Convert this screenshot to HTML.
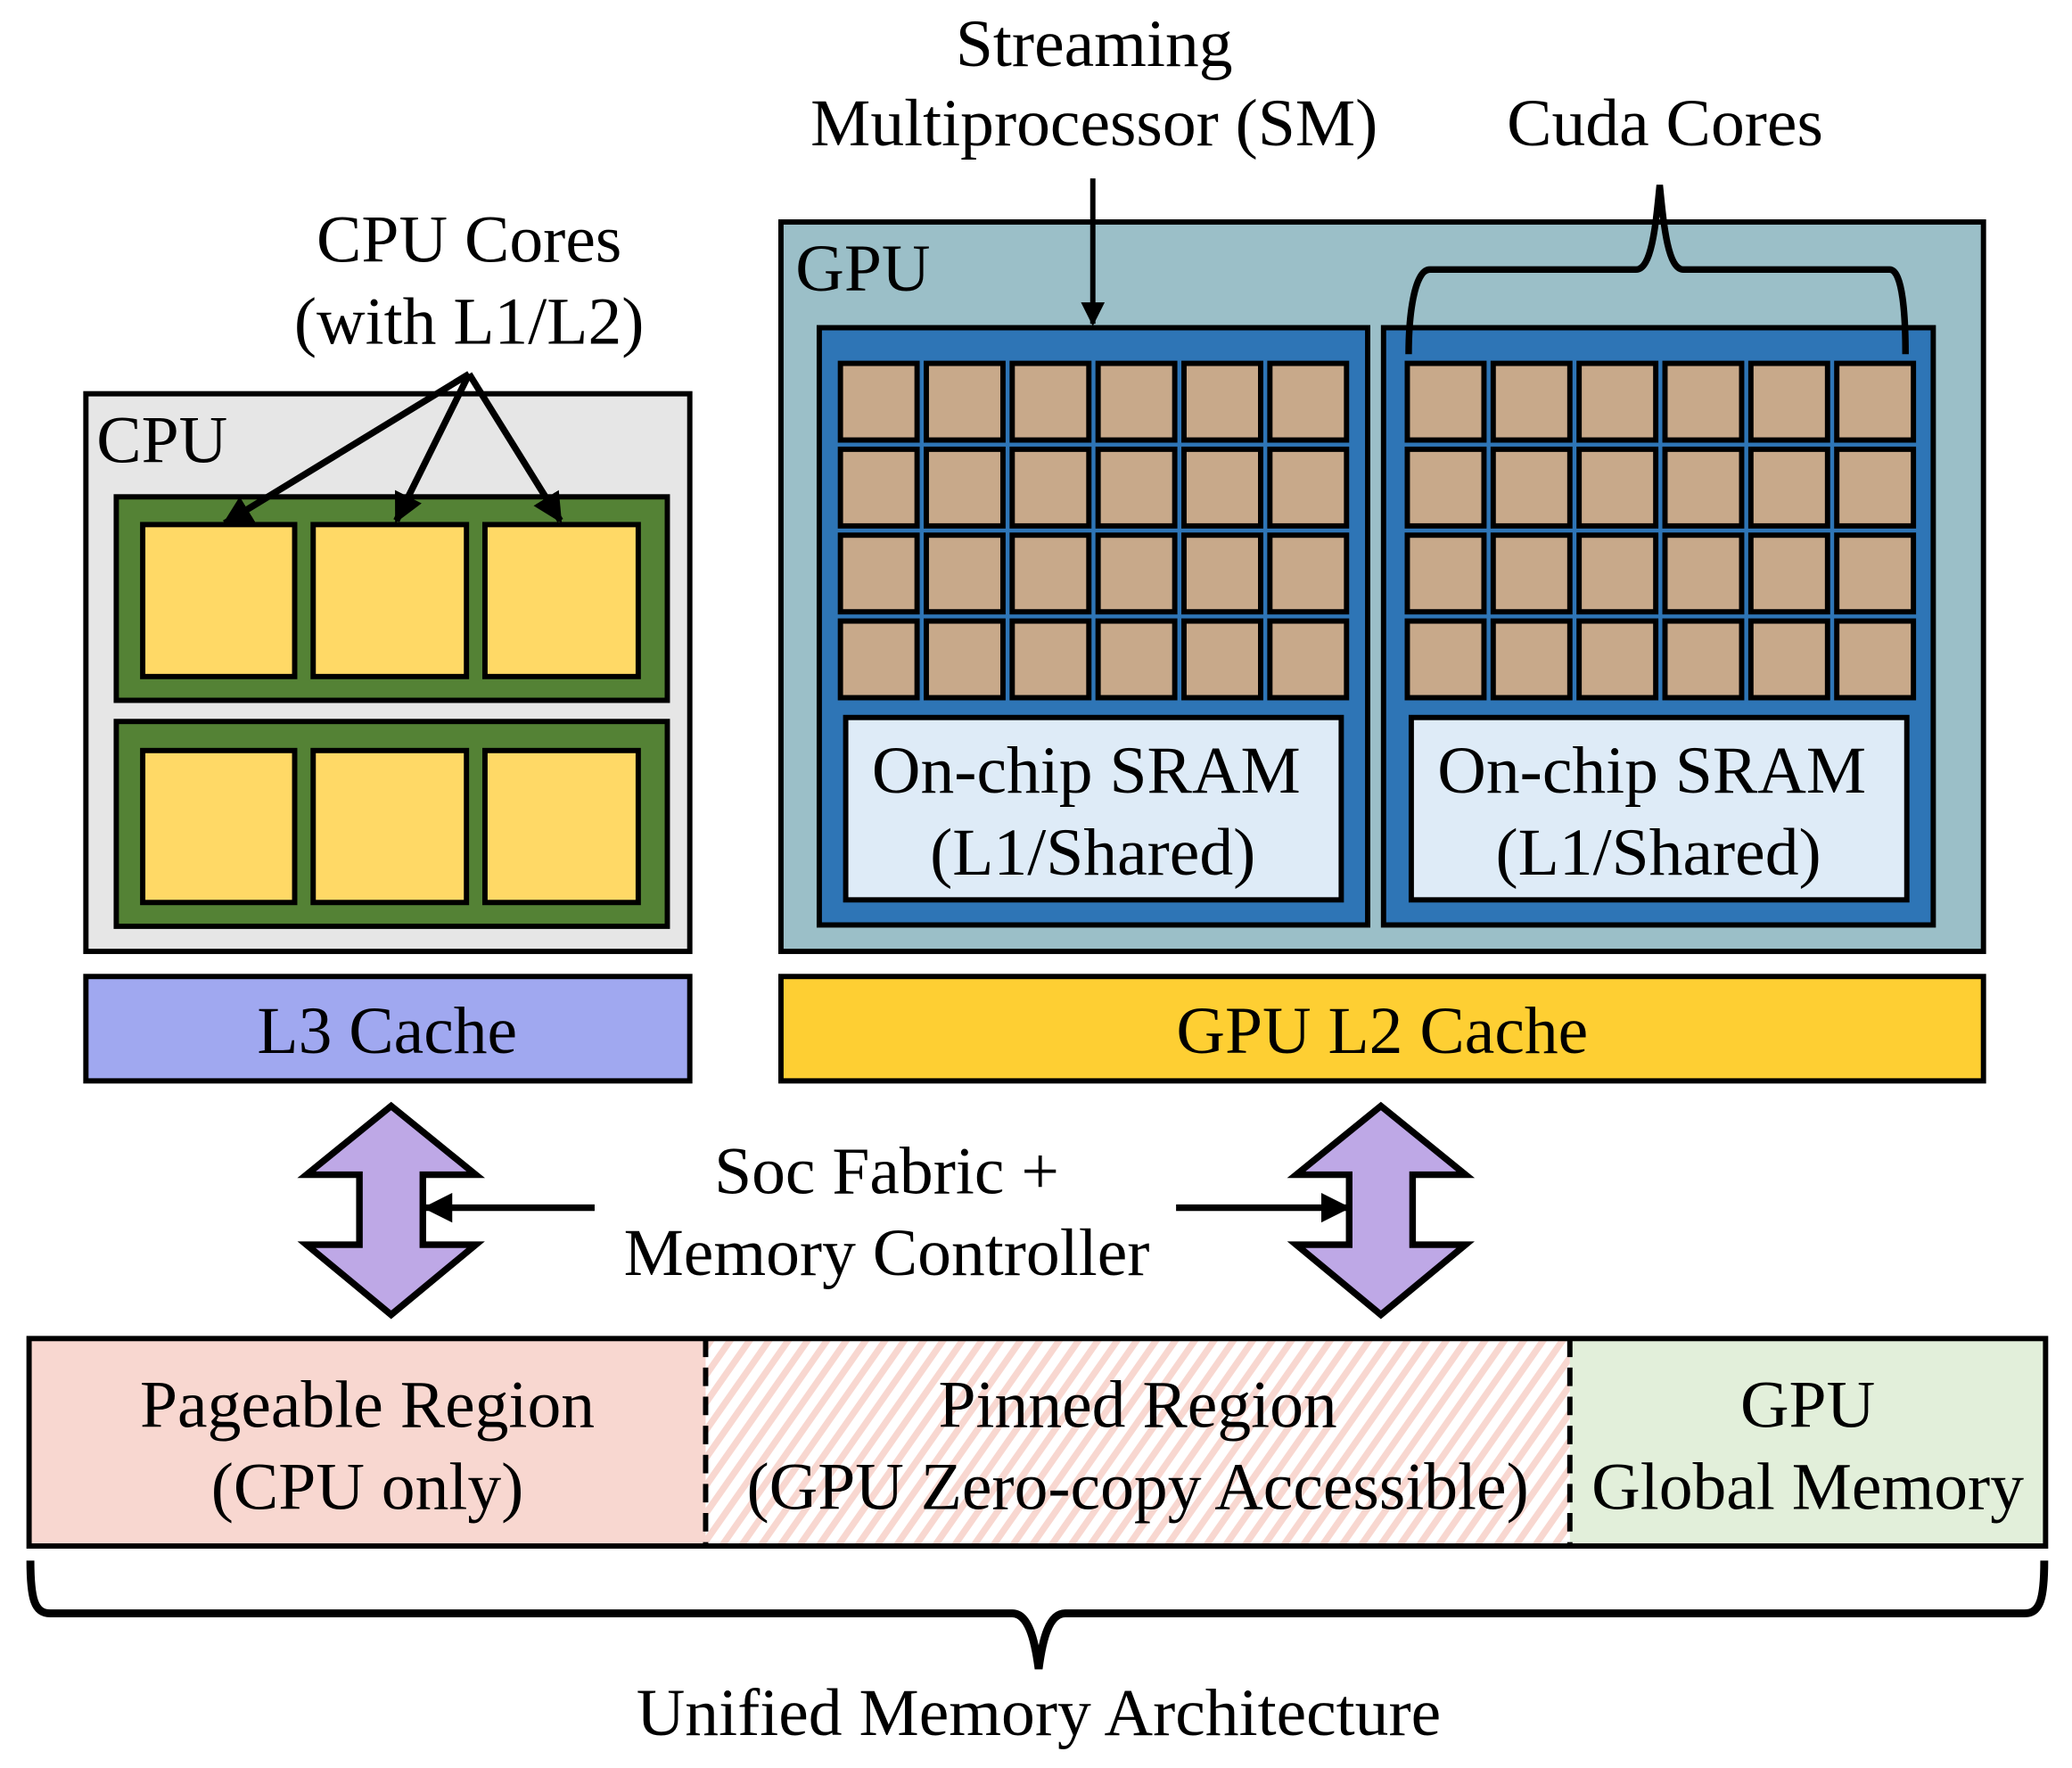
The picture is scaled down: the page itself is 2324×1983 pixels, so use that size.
<!DOCTYPE html>
<html><head><meta charset="utf-8"><style>
html,body{margin:0;padding:0;background:#fff;}
svg{display:block;}
text{font-family:"Liberation Serif","Times New Roman",serif;font-size:51px;fill:#000;}
</style></head><body>
<svg width="2324" height="1983" viewBox="0 0 1568 1338" preserveAspectRatio="none" xmlns="http://www.w3.org/2000/svg">
<defs>
<pattern id="hatch" patternUnits="userSpaceOnUse" width="12" height="12" patternTransform="rotate(35)">
<rect width="12" height="12" fill="#fff"/>
<rect width="5" height="12" fill="#f8d7d0"/>
</pattern>
<marker id="ah" viewBox="0 0 10 10" refX="9" refY="5" markerWidth="4.5" markerHeight="4.5" orient="auto" markerUnits="strokeWidth">
<path d="M0,0 L10,5 L0,10 z" fill="#000"/>
</marker>
</defs>

<!-- CPU -->
<rect x="65" y="298" width="457" height="422" fill="#e6e6e6" stroke="#000" stroke-width="4"/>
<text x="73" y="350">CPU</text>
<rect x="88" y="376" width="417" height="154" fill="#548235" stroke="#000" stroke-width="4"/>
<rect x="88" y="546" width="417" height="155" fill="#548235" stroke="#000" stroke-width="4"/>
<g fill="#ffd966" stroke="#000" stroke-width="4">
<rect x="108" y="397" width="115" height="115"/><rect x="237" y="397" width="116" height="115"/><rect x="367" y="397" width="116" height="115"/>
<rect x="108" y="568" width="115" height="115"/><rect x="237" y="568" width="116" height="115"/><rect x="367" y="568" width="116" height="115"/>
</g>
<g stroke="#000" stroke-width="5" fill="none" marker-end="url(#ah)">
<line x1="355" y1="283" x2="170" y2="396"/>
<line x1="355" y1="283" x2="300" y2="394"/>
<line x1="355" y1="283" x2="424" y2="394"/>
</g>
<text x="355" y="198" text-anchor="middle">CPU Cores</text>
<text x="355" y="260" text-anchor="middle">(with L1/L2)</text>

<rect x="65" y="739" width="457" height="79" fill="#a0a8f0" stroke="#000" stroke-width="4"/>
<text x="293" y="797" text-anchor="middle">L3 Cache</text>

<!-- GPU -->
<rect x="591" y="168" width="910" height="552" fill="#9bbfc8" stroke="#000" stroke-width="4"/>
<text x="602" y="220">GPU</text>
<rect x="620" y="248" width="415" height="452" fill="#2e75b6" stroke="#000" stroke-width="4"/>
<rect x="1047" y="248" width="416" height="452" fill="#2e75b6" stroke="#000" stroke-width="4"/>
<rect x="640" y="543" width="375" height="138" fill="#deebf7" stroke="#000" stroke-width="4"/>
<rect x="1068" y="543" width="375" height="138" fill="#deebf7" stroke="#000" stroke-width="4"/>
<text x="822" y="600" text-anchor="middle">On-chip SRAM</text>
<text x="827" y="662" text-anchor="middle">(L1/Shared)</text>
<text x="1250" y="600" text-anchor="middle">On-chip SRAM</text>
<text x="1255" y="662" text-anchor="middle">(L1/Shared)</text>

<line x1="827" y1="135" x2="827" y2="245" stroke="#000" stroke-width="4" marker-end="url(#ah)"/>
<text x="828" y="50" text-anchor="middle">Streaming</text>
<text x="828" y="110" text-anchor="middle">Multiprocessor (SM)</text>
<text x="1260" y="110" text-anchor="middle">Cuda Cores</text>

<rect x="591" y="739" width="910" height="79" fill="#fecf33" stroke="#000" stroke-width="4"/>
<text x="1046" y="797" text-anchor="middle">GPU L2 Cache</text>

<!-- double arrows -->
<path d="M296,837 L360,889 L320,889 L320,942 L360,942 L296,995 L232,942 L272,942 L272,889 L232,889 Z" fill="#bea8e6" stroke="#000" stroke-width="5"/>
<path d="M1045,837 L1109,889 L1069,889 L1069,942 L1109,942 L1045,995 L981,942 L1021,942 L1021,889 L981,889 Z" fill="#bea8e6" stroke="#000" stroke-width="5"/>
<line x1="450" y1="914" x2="322" y2="914" stroke="#000" stroke-width="5" marker-end="url(#ah)"/>
<line x1="890" y1="914" x2="1020" y2="914" stroke="#000" stroke-width="5" marker-end="url(#ah)"/>
<text x="671" y="903" text-anchor="middle">Soc Fabric +</text>
<text x="671" y="965" text-anchor="middle">Memory Controller</text>

<!-- memory -->
<rect x="22" y="1013" width="512" height="157" fill="#f8d7d0"/>
<rect x="534" y="1013" width="654" height="157" fill="url(#hatch)"/>
<rect x="1188" y="1013" width="360" height="157" fill="#e2efda"/>
<line x1="534" y1="1013" x2="534" y2="1170" stroke="#000" stroke-width="4" stroke-dasharray="14,8"/>
<line x1="1188" y1="1013" x2="1188" y2="1170" stroke="#000" stroke-width="4" stroke-dasharray="14,8"/>
<rect x="22" y="1013" width="1526" height="157" fill="none" stroke="#000" stroke-width="4"/>
<text x="278" y="1080" text-anchor="middle">Pageable Region</text>
<text x="278" y="1142" text-anchor="middle">(CPU only)</text>
<text x="861" y="1080" text-anchor="middle">Pinned Region</text>
<text x="861" y="1142" text-anchor="middle">(GPU Zero-copy Accessible)</text>
<text x="1368" y="1080" text-anchor="middle">GPU</text>
<text x="1368" y="1142" text-anchor="middle">Global Memory</text>

<path d="M23,1181 C23,1210 26,1221 38,1221 L766,1221 C778,1221 783,1240 786,1263 C789,1240 794,1221 806,1221 L1532,1221 C1544,1221 1547,1210 1547,1181" fill="none" stroke="#000" stroke-width="6"/>
<text x="786" y="1313" text-anchor="middle">Unified Memory Architecture</text>

<g fill="#c8a98a" stroke="#000" stroke-width="4">
<rect x="636" y="275" width="58" height="58"/><rect x="701" y="275" width="58" height="58"/><rect x="766" y="275" width="58" height="58"/><rect x="831" y="275" width="58" height="58"/><rect x="896" y="275" width="58" height="58"/><rect x="961" y="275" width="58" height="58"/>
<rect x="636" y="340" width="58" height="58"/><rect x="701" y="340" width="58" height="58"/><rect x="766" y="340" width="58" height="58"/><rect x="831" y="340" width="58" height="58"/><rect x="896" y="340" width="58" height="58"/><rect x="961" y="340" width="58" height="58"/>
<rect x="636" y="405" width="58" height="58"/><rect x="701" y="405" width="58" height="58"/><rect x="766" y="405" width="58" height="58"/><rect x="831" y="405" width="58" height="58"/><rect x="896" y="405" width="58" height="58"/><rect x="961" y="405" width="58" height="58"/>
<rect x="636" y="470" width="58" height="58"/><rect x="701" y="470" width="58" height="58"/><rect x="766" y="470" width="58" height="58"/><rect x="831" y="470" width="58" height="58"/><rect x="896" y="470" width="58" height="58"/><rect x="961" y="470" width="58" height="58"/>
<rect x="1065" y="275" width="58" height="58"/><rect x="1130" y="275" width="58" height="58"/><rect x="1195" y="275" width="58" height="58"/><rect x="1260" y="275" width="58" height="58"/><rect x="1325" y="275" width="58" height="58"/><rect x="1390" y="275" width="58" height="58"/>
<rect x="1065" y="340" width="58" height="58"/><rect x="1130" y="340" width="58" height="58"/><rect x="1195" y="340" width="58" height="58"/><rect x="1260" y="340" width="58" height="58"/><rect x="1325" y="340" width="58" height="58"/><rect x="1390" y="340" width="58" height="58"/>
<rect x="1065" y="405" width="58" height="58"/><rect x="1130" y="405" width="58" height="58"/><rect x="1195" y="405" width="58" height="58"/><rect x="1260" y="405" width="58" height="58"/><rect x="1325" y="405" width="58" height="58"/><rect x="1390" y="405" width="58" height="58"/>
<rect x="1065" y="470" width="58" height="58"/><rect x="1130" y="470" width="58" height="58"/><rect x="1195" y="470" width="58" height="58"/><rect x="1260" y="470" width="58" height="58"/><rect x="1325" y="470" width="58" height="58"/><rect x="1390" y="470" width="58" height="58"/>
</g>
<path d="M1066,268 C1066,240 1070,204 1082,204 L1238,204 C1250,204 1253,170 1256,140 C1259,170 1262,204 1274,204 L1430,204 C1440,204 1442,240 1442,268" fill="none" stroke="#000" stroke-width="5"/>
</svg>
</body></html>
